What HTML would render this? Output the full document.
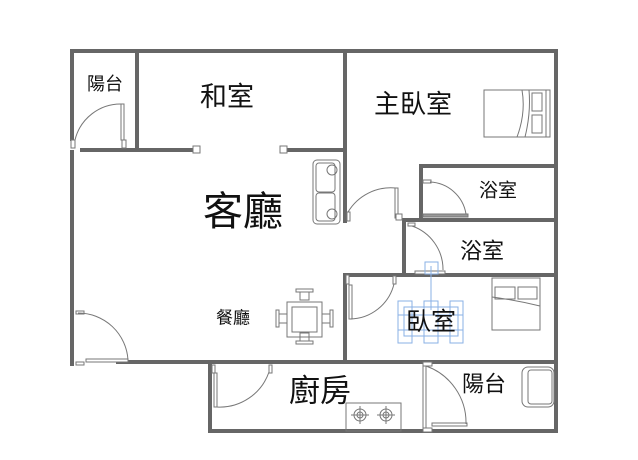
<!DOCTYPE html>
<html><head><meta charset="utf-8"><style>
html,body{margin:0;padding:0;background:#fff;}
svg{display:block}
text{font-family:"Liberation Sans","Noto Sans CJK TC",sans-serif;fill:#111;text-anchor:middle;dominant-baseline:central}
</style></head><body>
<svg width="638" height="460" viewBox="0 0 638 460">
<g stroke="#666" stroke-width="4" fill="none" stroke-linecap="square">
<line x1="72" y1="51" x2="556" y2="51"/>
<line x1="72" y1="51" x2="72" y2="139"/>
<line x1="72" y1="152" x2="72" y2="364"/>
<line x1="137" y1="51" x2="137" y2="150"/>
<line x1="82" y1="150" x2="195" y2="150"/>
<line x1="288" y1="150" x2="345" y2="150"/>
<line x1="345" y1="51" x2="345" y2="221"/>
<line x1="556" y1="51" x2="556" y2="431"/>
<line x1="421" y1="166" x2="556" y2="166"/>
<line x1="421" y1="166" x2="421" y2="220"/>
<line x1="404" y1="220" x2="556" y2="220"/>
<line x1="404" y1="220" x2="404" y2="275"/>
<line x1="345" y1="275" x2="556" y2="275"/>
<line x1="345" y1="275" x2="345" y2="361"/>
<line x1="118" y1="362" x2="556" y2="362"/>
<line x1="210" y1="362" x2="210" y2="431"/>
<line x1="210" y1="431" x2="556" y2="431"/>
</g>
<g stroke="#777" stroke-width="1" fill="#fff">
<rect x="193" y="146" width="7" height="7"/><rect x="280" y="146" width="7" height="7"/>
<rect x="121" y="104" width="3" height="36"/><rect x="122" y="140" width="4" height="8"/><rect x="71" y="140" width="4" height="8"/>
<path d="M75 140 A47 47 0 0 1 122 104" fill="none"/>
<rect x="76" y="311" width="8" height="3"/><rect x="76" y="362" width="8" height="3"/><rect x="86" y="359" width="42" height="3"/>
<path d="M78 313 A50 50 0 0 1 128 360" fill="none"/>
<rect x="347" y="212" width="3" height="9"/><rect x="395" y="188" width="3" height="30"/><rect x="396" y="214" width="6" height="6"/>
<path d="M348 212 A50 50 0 0 1 396 188" fill="none"/>
<rect x="423" y="180" width="8" height="3"/><rect x="423" y="214" width="45" height="3" fill="#999"/>
<path d="M430 182 A38 38 0 0 1 466 214" fill="none"/>
<rect x="408" y="223" width="7" height="3"/><rect x="415" y="271" width="30" height="3"/>
<path d="M412 226 A46 46 0 0 1 443 270" fill="none"/>
<rect x="346" y="275" width="3" height="9"/><rect x="349" y="285" width="3" height="34"/><rect x="393" y="276" width="3" height="8"/>
<path d="M350 319 A46 46 0 0 0 394 284" fill="none"/>
<rect x="212" y="365" width="3" height="8"/><rect x="214" y="373" width="3" height="34"/><rect x="269" y="365" width="3" height="8"/>
<path d="M217 407 A52 52 0 0 0 269 372" fill="none"/>
<rect x="423" y="362" width="9" height="4"/><rect x="423" y="366" width="3" height="62"/><rect x="423" y="428" width="9" height="4"/><rect x="432" y="423" width="35" height="3"/>
<path d="M426 366 A60 60 0 0 1 466 424" fill="none"/>
</g>
<g stroke="#777" stroke-width="1" fill="none">
<rect x="313" y="160" width="27" height="64" rx="4"/><rect x="316" y="163" width="19" height="29" rx="3"/><rect x="316" y="193" width="19" height="28" rx="3"/>
<circle cx="332" cy="170" r="5"/><circle cx="332" cy="214" r="5"/>
<rect x="484" y="90" width="66" height="47"/>
<path d="M522 90 Q526 113 517 137 M529 90 Q531 113 525 137"/>
<rect x="532" y="93" width="10" height="18"/><rect x="532" y="115" width="10" height="18"/><line x1="546" y1="90" x2="546" y2="137"/>
<rect x="492" y="278" width="48" height="52"/><rect x="495" y="287" width="20" height="12"/><rect x="518" y="287" width="19" height="12"/>
<path d="M492 297 Q515 300 540 306"/>
<rect x="287" y="302" width="35" height="35"/><rect x="292" y="307" width="25" height="25"/>
<rect x="296" y="289" width="17" height="3"/><rect x="300" y="292" width="9" height="8"/>
<rect x="296" y="341" width="17" height="3"/><rect x="300" y="333" width="9" height="8"/>
<rect x="276" y="310" width="3" height="17"/><rect x="279" y="314" width="8" height="9"/>
<rect x="330" y="310" width="3" height="17"/><rect x="322" y="314" width="8" height="9"/>
<rect x="346" y="403" width="55" height="28"/>
<circle cx="360" cy="415" r="6"/><circle cx="360" cy="415" r="3"/><circle cx="386" cy="415" r="6"/><circle cx="386" cy="415" r="3"/>
<path d="M351 415h18M360 406v18M377 415h18M386 406v18"/>
<rect x="522" y="367" width="32" height="40" rx="6"/><rect x="528" y="370" width="24" height="34" rx="3"/>
</g>
<g stroke="#8ab0e6" stroke-width="1" fill="none">
<line x1="431" y1="266" x2="431" y2="310"/>
<rect x="425" y="262" width="13" height="12"/>
<rect x="398" y="301" width="14" height="42"/><rect x="424" y="301" width="14" height="42"/><rect x="450" y="301" width="13" height="42"/>
<rect x="404" y="307" width="54" height="29"/>
<line x1="398" y1="315" x2="463" y2="315"/><line x1="398" y1="330" x2="463" y2="330"/>
</g>
<text x="105" y="84" font-size="18">陽台</text>
<text x="227" y="97" font-size="27">和室</text>
<text x="413" y="104" font-size="26">主臥室</text>
<text x="243" y="212" font-size="40">客廳</text>
<text x="498" y="191" font-size="19">浴室</text>
<text x="482" y="251" font-size="22">浴室</text>
<text x="233" y="318" font-size="17">餐廳</text>
<text x="431" y="322" font-size="25">臥室</text>
<text x="320" y="391" font-size="31">廚房</text>
<text x="484" y="384" font-size="22">陽台</text>
</svg>
</body></html>
